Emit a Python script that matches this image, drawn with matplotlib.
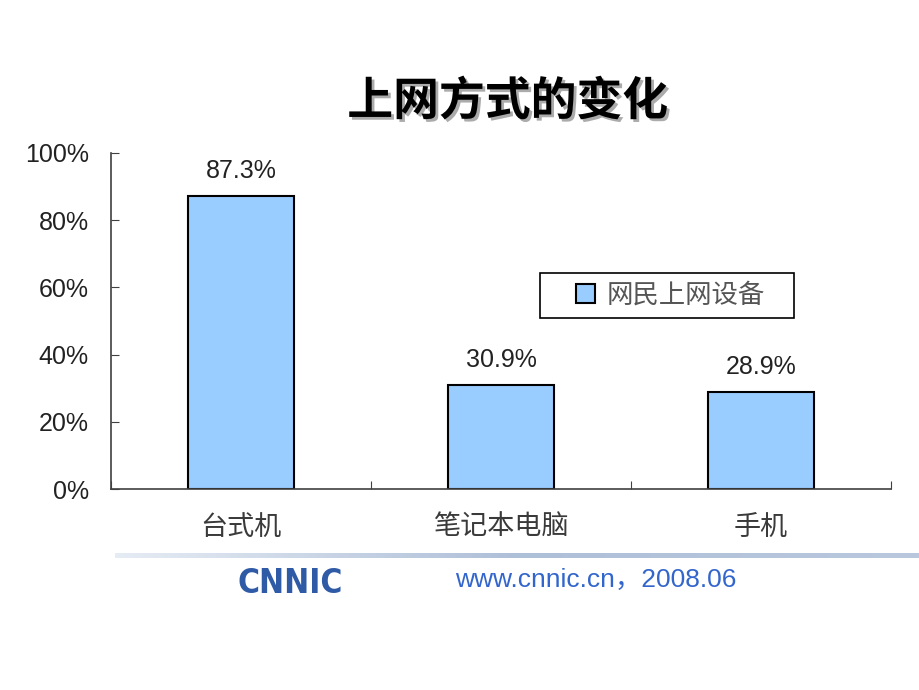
import matplotlib.pyplot as plt
import matplotlib.patheffects as pe
import numpy as np
from matplotlib.patches import Rectangle

plt.rcParams['font.family'] = ['Noto Sans CJK SC', 'DejaVu Sans']

# data
categories = ['台式机', '笔记本电脑', '手机']
values = [87.3, 30.9, 28.9]
value_labels = ['87.3%', '30.9%', '28.9%']
series_name = '网民上网设备'
yticks = [0, 20, 40, 60, 80, 100]
ytick_labels = ['0%', '20%', '40%', '60%', '80%', '100%']
title = '上网方式的变化'
footer = 'www.cnnic.cn，2008.06'

fig = plt.figure(figsize=(9.2, 6.9), dpi=100)
ax = fig.add_axes([0.1207, 0.2913, 0.8478, 0.487])

x = np.arange(len(categories))
ax.bar(x, values, width=0.41, color='#99CCFF', edgecolor='black',
       linewidth=1.5, label=series_name)

# value labels
for xi, v, lab in zip(x, values, value_labels):
    ax.annotate(lab, (xi, v), xytext=(0, 18), textcoords='offset points',
                ha='center', va='center', fontsize=18,
                family='Liberation Sans', color='#222222')

# axes
ax.set_xlim(-0.5, len(categories) - 0.5)
ax.set_ylim(0, 100)
ax.set_yticks(yticks)
ax.set_yticklabels(ytick_labels, family='Liberation Sans', fontsize=18, color='#222222')
ax.set_xticks(np.arange(len(categories) + 1) - 0.5)
ax.set_xticklabels([])
ax.set_xticks(x, minor=True)
ax.set_xticklabels(categories, minor=True, fontsize=19.5, color='#3a3a3a')
ax.tick_params(axis='x', which='major', direction='in', length=6, color='#404040')
ax.tick_params(axis='x', which='minor', length=0, pad=18)
ax.tick_params(axis='y', direction='in', length=6, pad=16, color='#404040')
for s in ['top', 'right']:
    ax.spines[s].set_visible(False)
for s in ['left', 'bottom']:
    ax.spines[s].set_color('#404040')
    ax.spines[s].set_linewidth(1.2)

# legend (frame drawn separately for wider side padding)
leg = ax.legend(loc='center', bbox_to_anchor=(0.729, 0.572),
                bbox_transform=fig.transFigure, frameon=False,
                fontsize=19, handlelength=0.7, handleheight=0.7,
                handletextpad=0.45, borderaxespad=0)
for t in leg.get_texts():
    t.set_color('#555555')
fig.add_artist(Rectangle((0.587, 0.539), 0.276, 0.0652, transform=fig.transFigure,
                         facecolor='none', edgecolor='black', linewidth=1.2))

# title with shadow
fig.text(0.552, 0.852, title, ha='center', va='center', fontsize=33,
         fontweight='bold', color='black',
         path_effects=[pe.withSimplePatchShadow(offset=(2, -2), shadow_rgbFace='#888888', alpha=0.7)])

# footer line (gradient)
lax = fig.add_axes([0.125, 0.192, 0.875, 0.006])
grad = np.linspace(0, 1, 256).reshape(1, -1)
lax.imshow(grad, aspect='auto', cmap=plt.matplotlib.colors.LinearSegmentedColormap.from_list(
    'g', ['#e6ecf4', '#aebfd8', '#b9c8dd']))
lax.axis('off')

# logo and footer text
fig.text(0.315, 0.155, 'CNNIC', ha='center', va='center', fontsize=24,
         fontweight='bold', color='#2f5aa6', family='DejaVu Sans',
         fontstretch='condensed')
fig.text(0.648, 0.16, footer, ha='center', va='center', fontsize=19,
         color='#3366cc', family=['Liberation Sans', 'Noto Sans CJK SC'])

fig.savefig('out.png', dpi=100)
